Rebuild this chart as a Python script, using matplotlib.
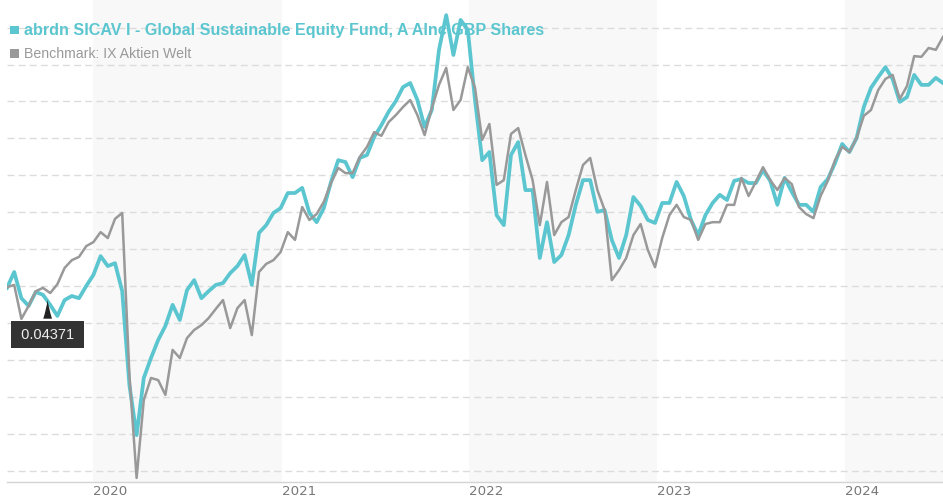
import matplotlib.pyplot as plt
import pandas as pd
from matplotlib.patches import Rectangle

# biweekly performance (%), Jul 2019 - Jul 2024
dates = pd.date_range('2019-07-17', periods=131, freq='14D')

fund = [-0.5, 3.8, -3.3, -5.4, -1.6, -2.4, -5.1, -8.1, -3.8, -2.7,
        -3.3, 0.0, 3.0, 8.1, 5.4, 6.2, -1.4, -26.8, -40.4, -24.9,
        -19.5, -14.6, -10.8, -5.1, -9.2, -1.1, 1.6, -3.3, -1.4, 0.3,
        0.8, 3.5, 5.4, 8.4, 0.3, 14.4, 16.5, 19.8, 21.1, 25.2,
        25.2, 26.6, 19.8, 17.3, 21.1, 28.2, 34.1, 33.6, 29.5, 34.7,
        35.5, 40.4, 43.6, 47.2, 50.1, 53.9, 55.0, 50.4, 43.1, 47.7,
        64.0, 73.4, 62.6, 72.1, 69.4, 50.4, 34.1, 36.3, 19.2, 16.5,
        35.5, 39.0, 26.0, 26.0, 7.6, 17.3, 6.5, 8.4, 13.8, 22.0,
        28.7, 28.7, 20.1, 20.6, 12.5, 7.6, 13.8, 24.1, 21.7, 17.9,
        17.1, 22.5, 22.5, 28.2, 24.4, 17.9, 13.8, 19.2, 22.5, 24.7,
        23.3, 28.5, 29.0, 27.9, 27.9, 31.4, 28.5, 22.0, 29.3, 25.5,
        22.0, 22.0, 20.1, 26.8, 29.0, 33.3, 38.5, 36.3, 40.1, 48.5,
        53.7, 56.6, 59.3, 56.1, 49.9, 51.2, 57.2, 54.5, 54.5, 56.4,
        55.0]

bench = [-0.3, 0.3, -8.9, -5.4, -1.4, -0.5, -1.9, 0.5, 4.9, 7.0,
         7.9, 10.8, 11.9, 14.6, 13.0, 18.2, 19.8, -24.1, -52.0, -30.9,
         -24.9, -25.5, -29.5, -17.3, -19.5, -14.1, -11.9, -10.6, -8.7, -6.2,
         -3.8, -11.4, -6.0, -3.8, -13.3, 3.8, 6.0, 7.0, 9.2, 14.6,
         12.5, 21.4, 17.9, 19.5, 22.8, 27.9, 32.0, 30.6, 30.6, 35.0,
         37.7, 41.7, 40.7, 44.4, 46.3, 48.5, 50.4, 46.3, 40.9, 48.2,
         54.5, 59.1, 47.7, 50.4, 59.3, 53.7, 39.6, 43.9, 27.4, 28.7,
         41.2, 42.8, 35.5, 28.7, 16.5, 28.2, 13.8, 17.3, 18.7, 26.0,
         32.8, 34.7, 26.0, 20.6, 1.6, 4.3, 7.6, 13.8, 16.8, 9.8,
         5.1, 13.0, 19.2, 22.0, 18.7, 17.9, 12.5, 16.8, 17.3, 17.3,
         22.0, 22.0, 29.3, 24.4, 28.2, 32.2, 28.7, 26.0, 29.3, 27.6,
         21.4, 19.5, 18.4, 24.4, 28.5, 34.1, 37.7, 36.3, 40.1, 46.1,
         47.7, 53.1, 56.1, 57.2, 50.7, 54.2, 62.3, 62.1, 64.5, 64.0,
         67.5]

years = [2020, 2021, 2022, 2023, 2024]
grid_levels = list(range(-50, 80, 10))
fund_name = 'abrdn SICAV I - Global Sustainable Equity Fund, A AInc GBP Shares'
bench_name = 'Benchmark: IX Aktien Welt'
tip_date, tip_value, tip_text = pd.Timestamp('2019-10-04'), -3.0, '0.04371'

CYAN = '#5bc6cf'
GREY = '#999999'

plt.rcParams['font.family'] = ['Liberation Sans', 'DejaVu Sans']
plt.rcParams['lines.scale_dashes'] = False

fig = plt.figure(figsize=(9.43, 5), dpi=100)
ax = fig.add_axes([7 / 943, 18 / 500, 936 / 943, 482 / 500])

# alternating year bands
starts = [pd.Timestamp(f'{y}-01-01') for y in years]
for i, s in enumerate(starts):
    if i % 2 == 0:
        e = starts[i + 1] if i + 1 < len(starts) else dates[-1]
        ax.axvspan(s, e, color='#f8f8f8', lw=0, zorder=0)

for g in grid_levels:
    ax.axhline(g, color='#dcdcdc', lw=1, dashes=(5, 3), zorder=1)

ax.plot(dates, fund, color=CYAN, lw=2.7, zorder=3)
ax.plot(dates, bench, color=GREY, lw=1.8, zorder=4)

ax.set_xlim(dates[0], dates[-1])
ax.set_ylim(-53.1, 77.5)
ax.set_yticks([])
ax.set_xticks(starts)
ax.set_xticklabels([str(y) for y in years], family='DejaVu Sans',
                   fontsize=9.6, color='#777777')
for lab in ax.get_xticklabels():
    lab.set_horizontalalignment('left')
ax.tick_params(axis='x', length=0, pad=2)
for side in ['top', 'left', 'right']:
    ax.spines[side].set_visible(False)
ax.spines['bottom'].set_color('#d4d4d4')
ax.spines['bottom'].set_linewidth(1)

# tooltip
ax.annotate(' ' + tip_text + ' ', xy=(tip_date, tip_value), xytext=(0, -27),
            textcoords='offset points', ha='center', va='center',
            fontsize=10.5, color='#eeeeee', zorder=6,
            bbox=dict(boxstyle='square,pad=0.42', fc='#333333', ec='none'),
            arrowprops=dict(arrowstyle='wedge,tail_width=0.6,shrink_factor=0.4',
                            fc='#222222', ec='none'))

# legend
fig.patches.append(Rectangle((10 / 943, 1 - 34 / 500), 8.5 / 943, 8.5 / 500,
                             transform=fig.transFigure, color=CYAN, lw=0))
fig.patches.append(Rectangle((10 / 943, 1 - 57.5 / 500), 8.5 / 943, 8.5 / 500,
                             transform=fig.transFigure, color=GREY, lw=0))
fig.text(24 / 943, 1 - 35 / 500, fund_name, fontsize=11.6, fontweight='bold',
         color=CYAN, va='baseline', zorder=7)
fig.text(24 / 943, 1 - 58 / 500, bench_name, fontsize=10.2,
         color=GREY, va='baseline', zorder=7)

fig.savefig('out.png', dpi=100)
